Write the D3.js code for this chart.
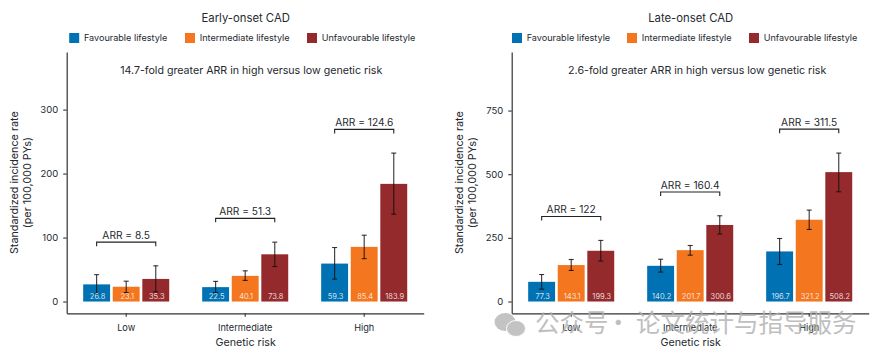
<!DOCTYPE html>
<html>
<head>
<meta charset="utf-8">
<script src="https://cdn.jsdelivr.net/npm/d3@7"></script>
<style>
  html, body { margin: 0; padding: 0; background: #fff; }
  svg { display: block; }
  text { font-family: Inter, "Noto Sans", sans-serif; fill: #24292f; }
</style>
</head>
<body>
<svg id="chart" width="885" height="359"></svg>
<script>
const groups = ["Low", "Intermediate", "High"];
const lifestyles = ["Favourable lifestyle", "Intermediate lifestyle", "Unfavourable lifestyle"];
const colors = ["#0071b2", "#f4761f", "#952a2d"];

// values are group by group, three lifestyles each
const earlyRates = [26.8, 23.1, 35.3, 22.5, 40.1, 73.8, 59.3, 85.4, 183.9];
const earlyLow = [12, 14, 15, 14, 33, 54.7, 35, 67, 136.5];
const earlyHigh = [42, 31.8, 55.8, 31.5, 48, 92.8, 84.4, 103.7, 232];
const earlyArr = ["ARR = 8.5", "ARR = 51.3", "ARR = 124.6"];
const earlyArrLevel = [92.8, 130, 269];
const earlyTicks = [0, 100, 200, 300];

const lateRates = [77.3, 143.1, 199.3, 140.2, 201.7, 300.6, 196.7, 321.2, 508.2];
const lateLow = [48.6, 122, 158.7, 115.5, 182, 264.8, 145.4, 283, 431];
const lateHigh = [106, 165, 240, 166, 220, 336.7, 247.5, 359, 583];
const lateArr = ["ARR = 122", "ARR = 160.4", "ARR = 311.5"];
const lateArrLevel = [334, 430, 677];
const lateTicks = [0, 250, 500, 750];

const svg = d3.select("#chart");

function drawPanel(opts) {
  const left = opts.left;
  const top = 52, bottom = 313.3;
  const plotWidth = 357;

  const g = svg.append("g").attr("transform", "translate(" + left + ",0)");

  const x0 = d3.scaleBand().domain(groups).range([0, plotWidth])
    .paddingInner(0.277).paddingOuter(0.1385);
  const x1 = d3.scaleBand().domain(lifestyles).range([0, x0.bandwidth()])
    .paddingInner(0.09);
  const y = d3.scaleLinear().domain(opts.yDomain).range([bottom, top]);

  const rows = [];
  groups.forEach((grp, i) => {
    lifestyles.forEach((ls, j) => {
      const k = i * 3 + j;
      rows.push({ grp, ls, j, rate: opts.rates[k], lo: opts.low[k], hi: opts.high[k] });
    });
  });
  const cx = d => x0(d.grp) + x1(d.ls) + x1.bandwidth() / 2;

  // bars
  g.selectAll(".bar").data(rows).enter().append("rect")
    .attr("class", "bar")
    .attr("x", d => x0(d.grp) + x1(d.ls))
    .attr("y", d => y(d.rate))
    .attr("width", x1.bandwidth())
    .attr("height", d => y(0) - y(d.rate))
    .attr("fill", d => colors[d.j]);

  // error bars
  const err = g.selectAll(".err").data(rows).enter().append("g")
    .attr("class", "err")
    .attr("stroke", "#111")
    .attr("stroke-opacity", 0.85)
    .attr("stroke-width", 1.1);
  err.append("line").attr("x1", cx).attr("x2", cx)
    .attr("y1", d => y(d.lo)).attr("y2", d => y(d.hi));
  err.append("line").attr("x1", d => cx(d) - 2.5).attr("x2", d => cx(d) + 2.5)
    .attr("y1", d => y(d.lo)).attr("y2", d => y(d.lo));
  err.append("line").attr("x1", d => cx(d) - 2.5).attr("x2", d => cx(d) + 2.5)
    .attr("y1", d => y(d.hi)).attr("y2", d => y(d.hi));

  // value labels inside the bars
  g.selectAll(".val").data(rows).enter().append("text")
    .attr("class", "val")
    .attr("x", d => cx(d) + 1)
    .attr("y", 298.8)
    .attr("text-anchor", "middle")
    .attr("font-size", 7.5)
    .style("fill", "#fff")
    .style("fill-opacity", 0.8)
    .text(d => d.rate.toFixed(1));

  // ARR brackets
  groups.forEach((grp, i) => {
    const x1a = x0(grp) + x1(lifestyles[0]) + x1.bandwidth() / 2;
    const x1b = x0(grp) + x1(lifestyles[2]) + x1.bandwidth() / 2;
    const by = y(opts.arrLevel[i]);
    g.append("path")
      .attr("d", d3.line()([[x1a, by + 4], [x1a, by], [x1b, by], [x1b, by + 4]]))
      .attr("fill", "none")
      .attr("stroke", "#222")
      .attr("stroke-width", 1.1);
    g.append("text")
      .attr("x", (x1a + x1b) / 2)
      .attr("y", by - 3.5)
      .attr("text-anchor", "middle")
      .attr("font-size", 10.2)
      .text(opts.arr[i]);
  });

  // axes
  const yAxis = g.append("g")
    .call(d3.axisLeft(y).tickValues(opts.ticks).tickSize(3.5).tickPadding(5).tickSizeOuter(0));
  const xAxis = g.append("g")
    .attr("transform", "translate(0," + bottom + ")")
    .call(d3.axisBottom(x0).tickSize(3.5).tickPadding(7.5).tickSizeOuter(0));
  [yAxis, xAxis].forEach(a => {
    a.attr("font-family", null);
    a.select(".domain").attr("stroke", "#333").attr("stroke-width", 1.2);
    a.selectAll(".tick line").attr("stroke", "#333").attr("stroke-width", 1.1);
    a.selectAll(".tick text").attr("font-size", 9.2).style("fill", "#24292f");
  });
  yAxis.selectAll(".tick text").attr("font-size", 9.5);

  // axis titles
  g.append("text")
    .attr("x", plotWidth / 2 + 0.5)
    .attr("y", 346.3)
    .attr("text-anchor", "middle")
    .attr("font-size", 10.7)
    .text("Genetic risk");
  const yTitle = g.append("text")
    .attr("transform", "translate(-48.7," + (top + bottom) / 2 + ") rotate(-90)")
    .attr("text-anchor", "middle")
    .attr("font-size", 10.8);
  yTitle.append("tspan").attr("x", 0).attr("y", 0).text("Standardized incidence rate");
  yTitle.append("tspan").attr("x", 0).attr("y", 13).text("(per 100,000 PYs)");

  // title and note
  g.append("text")
    .attr("x", plotWidth / 2 + 0.5)
    .attr("y", 21.5)
    .attr("text-anchor", "middle")
    .attr("font-size", 11.3)
    .text(opts.title);
  g.append("text")
    .attr("x", opts.noteX)
    .attr("y", 73.5)
    .attr("text-anchor", "middle")
    .attr("font-size", 10.65)
    .text(opts.note);

  // legend
  lifestyles.forEach((ls, j) => {
    const lx = opts.legendX[j];
    g.append("rect")
      .attr("x", lx).attr("y", 33)
      .attr("width", 10).attr("height", 10)
      .attr("fill", colors[j]);
    g.append("text")
      .attr("x", lx + 14.7).attr("y", 41)
      .attr("font-size", 9.1)
      .text(ls);
  });
}

drawPanel({
  left: 66.7,
  yDomain: [-18.4, 390],
  rates: earlyRates, low: earlyLow, high: earlyHigh,
  arr: earlyArr, arrLevel: earlyArrLevel, ticks: earlyTicks,
  title: "Early-onset CAD",
  note: "14.7-fold greater ARR in high versus low genetic risk",
  noteX: 184.5,
  legendX: [2.5, 118.3, 240.3]
});

drawPanel({
  left: 511.7,
  yDomain: [-46.3, 980],
  rates: lateRates, low: lateLow, high: lateHigh,
  arr: lateArr, arrLevel: lateArrLevel, ticks: lateTicks,
  title: "Late-onset CAD",
  note: "2.6-fold greater ARR in high versus low genetic risk",
  noteX: 185.5,
  legendX: [0.3, 115.3, 237.3]
});

// watermark
const wm = svg.append("g").attr("opacity", 0.8);
wm.append("ellipse").attr("cx", 505).attr("cy", 322).attr("rx", 10.5).attr("ry", 9).attr("fill", "#b5b5b5");
wm.append("ellipse").attr("cx", 516).attr("cy", 328.5).attr("rx", 9.5).attr("ry", 8).attr("fill", "#b5b5b5").attr("stroke", "#fff").attr("stroke-width", 1);
const wmFont = '"Noto Sans CJK SC", sans-serif';
[["公众号", 535], ["·", 606], ["论文统计与指导服务", 636]].forEach(t => {
  wm.append("text")
    .attr("x", t[1]).attr("y", 332)
    .attr("font-size", 24.5)
    .style("font-family", wmFont)
    .style("fill", "#b0b0b0")
    .text(t[0]);
});
</script>
</body>
</html>
